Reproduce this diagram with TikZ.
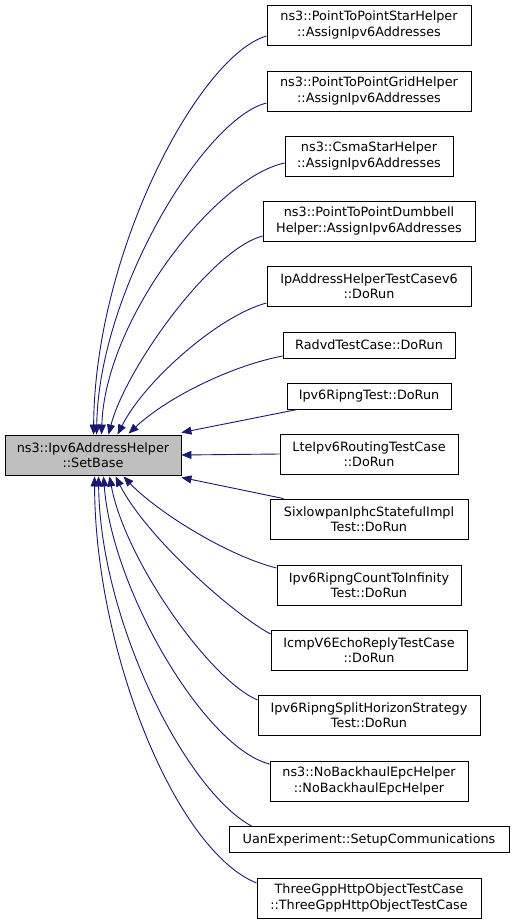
\documentclass[tikz,border=0pt]{standalone}
\usepackage{fontspec}
\setmainfont{DejaVu Sans}
\usetikzlibrary{arrows.meta,calc}
\definecolor{edgeblue}{HTML}{191970}
\definecolor{maingray}{HTML}{BFBFBF}
\begin{document}
\begin{tikzpicture}[x=1pt,y=-1pt,
  box/.style={draw=black,line width=0.9pt,fill=white,inner sep=0pt,align=center,font=\fontsize{12.8}{15.5}\selectfont},
  edge/.style={draw=edgeblue,line width=0.9pt,-{Triangle[length=10pt,width=8pt]}}]
\useasboundingbox[fill=white] (0,0) rectangle (515,924);
\node[box,fill=maingray,minimum width=176pt,minimum height=40pt] (main) at (93,455) {ns3::Ipv6AddressHelper\\::SetBase};
\node[box,minimum width=204pt,minimum height=40pt] (t1) at (369,25) {ns3::PointToPointStarHelper\\::AssignIpv6Addresses};
\node[box,minimum width=204pt,minimum height=40pt] (t2) at (369,91) {ns3::PointToPointGridHelper\\::AssignIpv6Addresses};
\node[box,minimum width=168pt,minimum height=40pt] (t3) at (369,156) {ns3::CsmaStarHelper\\::AssignIpv6Addresses};
\node[box,minimum width=212pt,minimum height=40pt] (t4) at (369,221) {ns3::PointToPointDumbbell\\Helper::AssignIpv6Addresses};
\node[box,minimum width=204pt,minimum height=40pt] (t5) at (369,286) {IpAddressHelperTestCasev6\\::DoRun};
\node[box,minimum width=172pt,minimum height=26pt] (t6) at (369,345) {RadvdTestCase::DoRun};
\node[box,minimum width=164pt,minimum height=26pt] (t7) at (369,396) {Ipv6RipngTest::DoRun};
\node[box,minimum width=178pt,minimum height=40pt] (t8) at (369,454) {LteIpv6RoutingTestCase\\::DoRun};
\node[box,minimum width=198pt,minimum height=40pt] (t9) at (369,519) {SixlowpanIphcStatefulImpl\\Test::DoRun};
\node[box,minimum width=184pt,minimum height=40pt] (t10) at (369,585) {Ipv6RipngCountToInfinity\\Test::DoRun};
\node[box,minimum width=196pt,minimum height=40pt] (t11) at (369,650) {IcmpV6EchoReplyTestCase\\::DoRun};
\node[box,minimum width=222pt,minimum height=40pt] (t12) at (369,715) {Ipv6RipngSplitHorizonStrategy\\Test::DoRun};
\node[box,minimum width=198pt,minimum height=40pt] (t13) at (369,781) {ns3::NoBackhaulEpcHelper\\::NoBackhaulEpcHelper};
\node[box,minimum width=280pt,minimum height=26pt] (t14) at (369,839.5) {UanExperiment::SetupCommunications};
\node[box,minimum width=224pt,minimum height=40pt] (t15) at (369,898) {ThreeGppHttpObjectTestCase\\::ThreeGppHttpObjectTestCase};
% edges (callers -> SetBase)
\draw[edge] ($(t1.west)+(0,11)$) .. controls (200,55) and (95,250) .. ($(main.north west)+(89,0)$);
\draw[edge] ($(t2.west)+(0,12)$) .. controls (205,118) and (99,290) .. ($(main.north west)+(92,0)$);
\draw[edge] ($(t3.west)+(0,7)$) .. controls (215,178) and (105,320) .. ($(main.north west)+(97,0)$);
\draw[edge] ($(t4.west)+(0,15)$) .. controls (210,250) and (125,370) .. ($(main.north west)+(104,0)$);
\draw[edge] ($(t5.west)+(0,17)$) .. controls (220,315) and (145,380) .. ($(main.north west)+(113,0)$);
\draw[edge] ($(t6.west)+(0,11)$) .. controls (235,365) and (170,395) .. ($(main.north west)+(124,-1)$);
\draw[edge] ($(t7.south west)+(11,0)$) -- ($(main.north east)+(0,-2)$);
\draw[edge] (t8.west) -- (main.east);
\draw[edge] ($(t9.north west)+(14,0)$) -- ($(main.south east)+(0,2)$);
\draw[edge] ($(t10.west)+(0,-17)$) .. controls (225,555) and (155,510) .. ($(main.south west)+(119,1)$);
\draw[edge] ($(t11.west)+(0,-16)$) .. controls (230,612) and (145,535) .. ($(main.south west)+(111,1)$);
\draw[edge] ($(t12.west)+(0,-15)$) .. controls (210,680) and (125,560) .. ($(main.south west)+(105,1)$);
\draw[edge] ($(t13.west)+(0,-17)$) .. controls (205,748) and (112,590) .. ($(main.south west)+(99,1)$);
\draw[edge] ($(t14.north west)+(23,0)$) .. controls (185,790) and (100,620) .. ($(main.south west)+(94,1)$);
\draw[edge] ($(t15.west)+(0,-15)$) .. controls (175,850) and (95,650) .. ($(main.south west)+(90,1)$);
\end{tikzpicture}
\end{document}
